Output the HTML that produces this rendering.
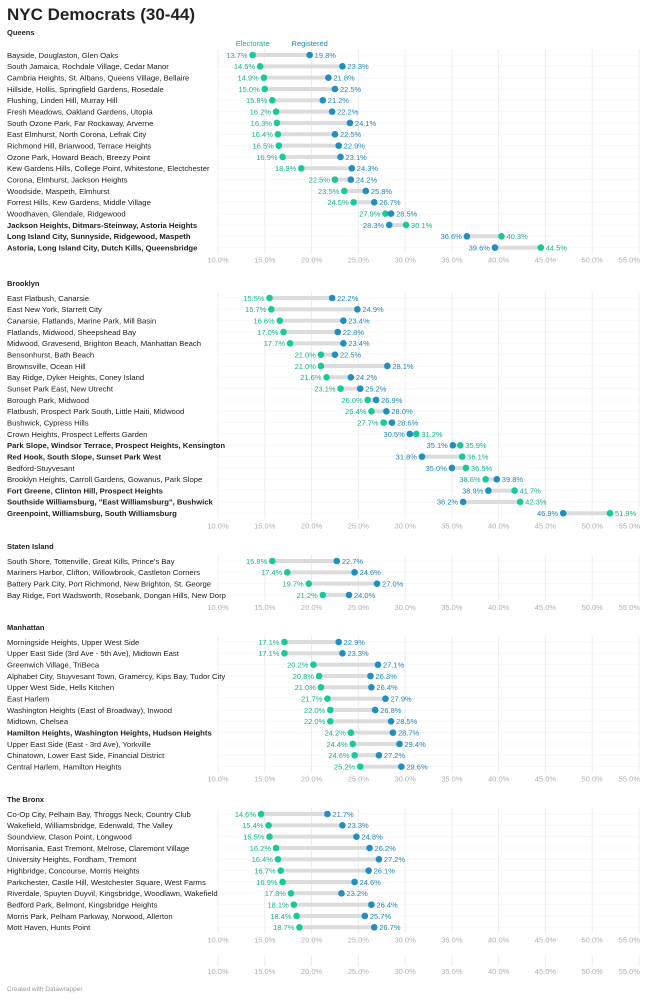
<!DOCTYPE html>
<html><head><meta charset="utf-8">
<style>
html,body{margin:0;padding:0;background:#fff;}
svg{display:block;font-family:"Liberation Sans",sans-serif;}
</style></head>
<body>
<svg id="chart" width="656" height="1000" viewBox="0 0 656 1000" xmlns="http://www.w3.org/2000/svg">
<text x="7" y="20" font-size="17" font-weight="bold" fill="#222">NYC Democrats (30-44)</text>
<g id="layer"></g>
<text x="7" y="991" font-size="6.5" fill="#999">Created with Datawrapper</text>
</svg>
<script>
// ---- data ----
const sectionNames = ["Queens","Brooklyn","Staten Island","Manhattan","The Bronx"];
const queensRows = ["Bayside, Douglaston, Glen Oaks","South Jamaica, Rochdale Village, Cedar Manor","Cambria Heights, St. Albans, Queens Village, Bellaire","Hillside, Hollis, Springfield Gardens, Rosedale","Flushing, Linden Hill, Murray Hill","Fresh Meadows, Oakland Gardens, Utopia","South Ozone Park, Far Rockaway, Arverne","East Elmhurst, North Corona, Lefrak City","Richmond Hill, Briarwood, Terrace Heights","Ozone Park, Howard Beach, Breezy Point","Kew Gardens Hills, College Point, Whitestone, Electchester","Corona, Elmhurst, Jackson Heights","Woodside, Maspeth, Elmhurst","Forrest Hills, Kew Gardens, Middle Village","Woodhaven, Glendale, Ridgewood","Jackson Heights, Ditmars-Steinway, Astoria Heights","Long Island City, Sunnyside, Ridgewood, Maspeth","Astoria, Long Island City, Dutch Kills, Queensbridge"];
const queensElectorate = [13.7,14.5,14.9,15.0,15.8,16.2,16.3,16.4,16.5,16.9,18.9,22.5,23.5,24.5,27.9,30.1,40.3,44.5];
const queensRegistered = [19.8,23.3,21.8,22.5,21.2,22.2,24.1,22.5,22.9,23.1,24.3,24.2,25.8,26.7,28.5,28.3,36.6,39.6];
const queensBold = [0,0,0,0,0,0,0,0,0,0,0,0,0,0,0,1,1,1];

const brooklynRows = ["East Flatbush, Canarsie","East New York, Starrett City","Canarsie, Flatlands, Marine Park, Mill Basin","Flatlands, Midwood, Sheepshead Bay","Midwood, Gravesend, Brighton Beach, Manhattan Beach","Bensonhurst, Bath Beach","Brownsville, Ocean Hill","Bay Ridge, Dyker Heights, Coney Island","Sunset Park East, New Utrecht","Borough Park, Midwood","Flatbush, Prospect Park South, Little Haiti, Midwood","Bushwick, Cypress Hills","Crown Heights, Prospect Lefferts Garden","Park Slope, Windsor Terrace, Prospect Heights, Kensington","Red Hook, South Slope, Sunset Park West","Bedford-Stuyvesant","Brooklyn Heights, Carroll Gardens, Gowanus, Park Slope","Fort Greene, Clinton Hill, Prospect Heights","Southside Williamsburg, \"East Williamsburg\", Bushwick","Greenpoint, Williamsburg, South Williamsburg"];
const brooklynElectorate = [15.5,15.7,16.6,17.0,17.7,21.0,21.0,21.6,23.1,26.0,26.4,27.7,31.2,35.9,36.1,36.5,38.6,41.7,42.3,51.9];
const brooklynRegistered = [22.2,24.9,23.4,22.8,23.4,22.5,28.1,24.2,25.2,26.9,28.0,28.6,30.5,35.1,31.8,35.0,39.8,38.9,36.2,46.9];
const brooklynBold = [0,0,0,0,0,0,0,0,0,0,0,0,0,1,1,0,0,1,1,1];

const statenRows = ["South Shore, Tottenville, Great Kills, Prince's Bay","Mariners Harbor, Clifton, Willowbrook, Castleton Corners","Battery Park City, Port Richmond, New Brighton, St. George","Bay Ridge, Fort Wadsworth, Rosebank, Dongan Hills, New Dorp"];
const statenElectorate = [15.8,17.4,19.7,21.2];
const statenRegistered = [22.7,24.6,27.0,24.0];
const statenBold = [0,0,0,0];

const manhattanRows = ["Morningside Heights, Upper West Side","Upper East Side (3rd Ave - 5th Ave), Midtown East","Greenwich Village, TriBeca","Alphabet City, Stuyvesant Town, Gramercy, Kips Bay, Tudor City","Upper West Side, Hells Kitchen","East Harlem","Washington Heights (East of Broadway), Inwood","Midtown, Chelsea","Hamilton Heights, Washington Heights, Hudson Heights","Upper East Side (East - 3rd Ave), Yorkville","Chinatown, Lower East Side, Financial District","Central Harlem, Hamilton Heights"];
const manhattanElectorate = [17.1,17.1,20.2,20.8,21.0,21.7,22.0,22.0,24.2,24.4,24.6,25.2];
const manhattanRegistered = [22.9,23.3,27.1,26.3,26.4,27.9,26.8,28.5,28.7,29.4,27.2,29.6];
const manhattanBold = [0,0,0,0,0,0,0,0,1,0,0,0];

const bronxRows = ["Co-Op City, Pelham Bay, Throggs Neck, Country Club","Wakefield, Williamsbridge, Edenwald, The Valley","Soundview, Clason Point, Longwood","Morrisania, East Tremont, Melrose, Claremont Village","University Heights, Fordham, Tremont","Highbridge, Concourse, Morris Heights","Parkchester, Castle Hill, Westchester Square, West Farms","Riverdale, Spuyten Duyvil, Kingsbridge, Woodlawn, Wakefield","Bedford Park, Belmont, Kingsbridge Heights","Morris Park, Pelham Parkway, Norwood, Allerton","Mott Haven, Hunts Point"];
const bronxElectorate = [14.6,15.4,15.5,16.2,16.4,16.7,16.9,17.8,18.1,18.4,18.7];
const bronxRegistered = [21.7,23.3,24.8,26.2,27.2,26.1,24.6,23.2,26.4,25.7,26.7];
const bronxBold = [0,0,0,0,0,0,0,0,0,0,0];

const tickValues = [10,15,20,25,30,35,40,45,50,55];
const tickLabels = ["10.0%","15.0%","20.0%","25.0%","30.0%","35.0%","40.0%","45.0%","50.0%","55.0%"];

// ---- drawing ----
const sections = [
  [queensRows,queensElectorate,queensRegistered,queensBold],
  [brooklynRows,brooklynElectorate,brooklynRegistered,brooklynBold],
  [statenRows,statenElectorate,statenRegistered,statenBold],
  [manhattanRows,manhattanElectorate,manhattanRegistered,manhattanBold],
  [bronxRows,bronxElectorate,bronxRegistered,bronxBold]
];
const X0=218, X1=639, VMIN=10, VMAX=55;
const x = v => X0 + (v-VMIN)/(VMAX-VMIN)*(X1-X0);
const ROW=11.33;
const GREEN="#18c99a", BLUE="#1f8ec3", GTXT="#17b38b", BTXT="#1f86b8";
const NS="http://www.w3.org/2000/svg";
const layer=document.getElementById('layer');
function mk(tag, attrs, parent){
  const e=document.createElementNS(NS,tag);
  for(const k in attrs) e.setAttribute(k,attrs[k]);
  (parent||layer).appendChild(e);
  return e;
}
function axisLabels(y, g){
  tickValues.forEach((v,i)=>{
    const anchor = i===tickValues.length-1 ? 'end' : 'middle';
    const t=mk('text',{x:(i===tickValues.length-1? x(v)+1 : x(v)),y:y,'font-size':7.5,fill:'#b0b0b0','text-anchor':anchor},g);
    
    
    t.textContent=tickLabels[i];
  });
}
let headerY=[35,286,549,630,802];
sections.forEach((sec,si)=>{
  const [rows,el,rg,bold]=sec;
  const g=mk('g',{});
  
  
  const hy=headerY[si];
  const h=mk('text',{x:7,y:hy,'font-size':7.5,'font-weight':'bold',fill:'#222'},g);
  
  
  h.textContent=sectionNames[si];
  const y0 = si===0 ? 55 : hy+12;
  const yLast = y0+(rows.length-1)*ROW;
  // vertical grid
  tickValues.forEach(v=>{
    const l=mk('line',{x1:x(v),x2:x(v),y1:y0-6,y2:yLast+6,stroke:'#ececec','stroke-width':1},g);
    
    
  });
  if(si===0){
    const le=mk('text',{x:x(el[0]),y:46,'font-size':7.5,fill:GTXT,'text-anchor':'middle'},g);
    
    
    le.textContent='Electorate';
    const lr=mk('text',{x:x(rg[0]),y:46,'font-size':7.5,fill:BTXT,'text-anchor':'middle'},g);
    
    
    lr.textContent='Registered';
  }
  rows.forEach((name,i)=>{
    const y=y0+i*ROW;
    const hl=mk('line',{x1:X0,x2:X1,y1:y,y2:y,stroke:'#efefef','stroke-width':0.8,'stroke-dasharray':'1,1'},g);
    
    
    const t=mk('text',{x:7,y:y+2.8,'font-size':7.7,fill:'#222','font-weight':bold[i]?'bold':'normal'},g);
    
    
    t.textContent=name;
    const e=el[i], r=rg[i];
    const lo=Math.min(e,r), hi=Math.max(e,r);
    const bar=mk('line',{x1:x(lo),x2:x(hi),y1:y,y2:y,stroke:'#dcdcdc','stroke-width':4},g);
    
    
    const de=mk('circle',{cx:x(e),cy:y,r:3.3,fill:GREEN},g);
    
    
    const dr=mk('circle',{cx:x(r),cy:y,r:3.3,fill:BLUE},g);
    
    
    const eLeft = e<=r;
    const te=mk('text',{x:eLeft? x(e)-5 : x(e)+5,y:y+2.8,'font-size':7.5,fill:GTXT,'text-anchor':eLeft?'end':'start'},g);
    
    
    te.textContent=e.toFixed(1)+'%';
    const tr=mk('text',{x:eLeft? x(r)+5 : x(r)-5,y:y+2.8,'font-size':7.5,fill:BTXT,'text-anchor':eLeft?'start':'end'},g);
    
    
    tr.textContent=r.toFixed(1)+'%';
  });
  axisLabels(yLast+15, g);
});
// empty trailing axis
const ga=mk('g',{});


tickValues.forEach(v=>{
  const l=mk('line',{x1:x(v),x2:x(v),y1:955,y2:966,stroke:'#ececec','stroke-width':1},ga);
  
  
});
axisLabels(974, ga);
</script>
</body></html>
